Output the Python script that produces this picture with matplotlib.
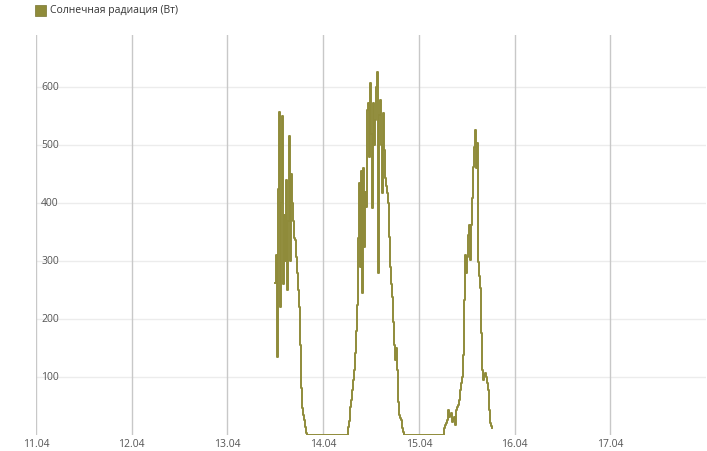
import matplotlib
matplotlib.use("Agg")
import matplotlib.pyplot as plt
from matplotlib.patches import Rectangle
from matplotlib.transforms import blended_transform_factory

# hours since 13.04 00:00
hours = [12.0, 12.25, 12.5, 12.75, 13.0, 13.25, 13.5, 13.75, 14.0, 14.25, 14.5, 14.75,
         15.0, 15.25, 15.5, 15.75, 16.0, 16.25, 16.5, 16.75, 17.0, 17.25, 17.5, 17.75,
         18.0, 18.25, 18.5, 18.75, 19.0, 19.25, 19.5, 19.75, 20.0,
         30.0, 30.25, 30.5, 30.75, 31.0, 31.25, 31.5, 31.75, 32.0, 32.25, 32.5, 32.75,
         33.0, 33.25, 33.5, 33.75, 34.0, 34.25, 34.5, 34.75, 35.0, 35.25, 35.5, 35.75,
         36.0, 36.25, 36.5, 36.75, 37.0, 37.25, 37.5, 37.75, 38.0, 38.25, 38.5, 38.75,
         39.0, 39.25, 39.5, 39.75, 40.0, 40.25, 40.5, 40.75, 41.0, 41.25, 41.5, 41.75,
         42.0, 42.25, 42.5, 42.75, 43.0, 43.25, 43.5, 43.75, 44.0, 44.25,
         54.0, 54.25, 54.5, 54.75, 55.0, 55.25, 55.5, 55.75, 56.0, 56.25, 56.5, 56.75,
         57.0, 57.25, 57.5, 57.75, 58.0, 58.25, 58.5, 58.75, 59.0, 59.25, 59.5, 59.75,
         60.0, 60.25, 60.5, 60.75, 61.0, 61.25, 61.5, 61.75, 62.0, 62.25, 62.5, 62.75,
         63.0, 63.25, 63.5, 63.75, 64.0, 64.25, 64.5, 64.75, 65.0, 65.25, 65.5, 65.75,
         66.0, 66.25]
radiation = [262, 310, 135, 425, 558, 220, 400, 550, 260, 380, 300, 440,
             250, 370, 515, 300, 450, 400, 370, 340, 336, 307, 279, 250,
             221, 155, 81, 46, 34, 26, 14, 3, 0,
             0, 14, 25, 48, 60, 78, 95, 112, 141, 180, 224, 340,
             435, 290, 455, 245, 460, 324, 420, 393, 560, 572, 480, 607,
             520, 391, 572, 500, 543, 600, 626, 279, 552, 578, 500, 417,
             555, 491, 443, 430, 417, 400, 341, 290, 260, 238, 195, 155,
             129, 150, 112, 57, 34, 30, 26, 12, 5, 0,
             0, 12, 18, 21, 26, 43, 31, 35, 38, 22, 28, 31,
             17, 43, 48, 52, 60, 78, 90, 100, 138, 233, 310, 279,
             307, 345, 362, 302, 362, 409, 462, 497, 526, 460, 503, 298,
             275, 253, 176, 112, 95, 103, 107, 100, 90, 78, 43, 21,
             15, 12]

date_labels = ["11.04", "12.04", "13.04", "14.04", "15.04", "16.04", "17.04"]
y_ticks = [100, 200, 300, 400, 500, 600]
series_name = "Солнечная радиация (Вт)"
color = "#8f8b3a"

xs = [2 + h / 24 for h in hours]

plt.rcParams['font.family'] = ['Open Sans', 'DejaVu Sans']
fig = plt.figure(figsize=(7.07, 4.51), dpi=100)
W, H = 707, 451
ax = fig.add_axes([36 / W, (H - 435) / H, (706 - 36) / W, (435 - 35) / H])
ax.set_xlim(0, 7)
ax.set_ylim(0, 690)
for s in ax.spines.values():
    s.set_visible(False)

for i in range(len(date_labels)):
    ax.axvline(i, color="#c8c8c8", lw=1, zorder=1)
for v in y_ticks:
    ax.axhline(v, color="#ececec", lw=1, zorder=0)

ax.plot(xs, radiation, drawstyle="steps-post", color=color, lw=1.4, zorder=3)

ax.set_xticks(range(len(date_labels)))
ax.set_xticklabels(date_labels, fontsize=7.5, color="#555555")
ax.tick_params(axis="x", length=0, pad=3)
ax.set_yticks([])
tr = blended_transform_factory(ax.transAxes, ax.transData)
for v in y_ticks:
    ax.text(5 / 670, v, str(v), transform=tr, ha="left", va="center",
            fontsize=7.5, color="#555555")

fig.patches.append(Rectangle((35 / W, 1 - 16 / H), 11 / W, 11 / H,
                             transform=fig.transFigure, facecolor=color,
                             edgecolor="#77742f", lw=0.5))
fig.text(50 / W, 1 - 10.5 / H, series_name, ha="left", va="center",
         fontsize=7.5, color="#333333")

fig.savefig("out.png", dpi=100)
